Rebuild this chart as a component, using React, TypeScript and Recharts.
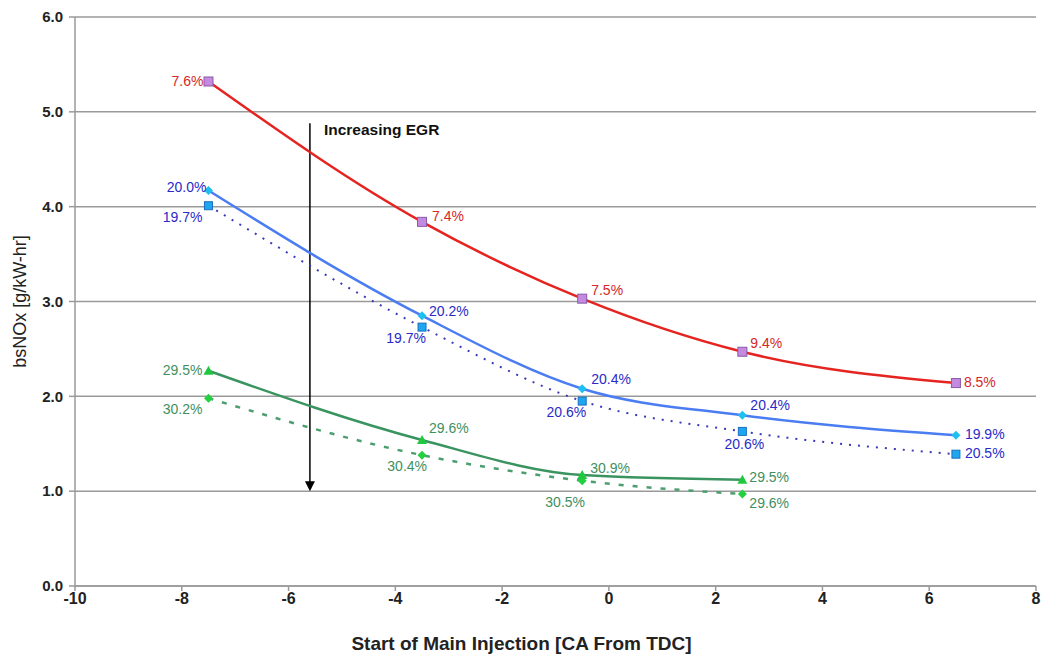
import React from "react";
import {
  LineChart,
  Line,
  XAxis,
  YAxis,
  CartesianGrid,
  LabelList,
  ReferenceLine,
  ReferenceDot,
} from "recharts";

// injection timing (deg CA from TDC)
const timing = [-7.5, -3.5, -0.5, 2.5, 6.5];

// bsNOx [g/kW-hr] per EGR level
const egrLow = [5.32, 3.84, 3.03, 2.47, 2.14];
const egrMidA = [4.17, 2.85, 2.08, 1.8, 1.59];
const egrMidB = [4.01, 2.73, 1.95, 1.63, 1.39];
const egrHighA = [2.27, 1.54, 1.17, 1.12, null];
const egrHighB = [1.98, 1.38, 1.11, 0.97, null];

// measured EGR rate at each point
const egrLowPct = ["7.6%", "7.4%", "7.5%", "9.4%", "8.5%"];
const egrMidAPct = ["20.0%", "20.2%", "20.4%", "20.4%", "19.9%"];
const egrMidBPct = ["19.7%", "19.7%", "20.6%", "20.6%", "20.5%"];
const egrHighAPct = ["29.5%", "29.6%", "30.9%", "29.5%"];
const egrHighBPct = ["30.2%", "30.4%", "30.5%", "29.6%"];

const xTicks = [-10, -8, -6, -4, -2, 0, 2, 4, 6, 8];
const yTicks = [0, 1, 2, 3, 4, 5, 6];

const data = timing.map((t, i) => ({
  t,
  low: egrLow[i],
  midA: egrMidA[i],
  midB: egrMidB[i],
  highA: egrHighA[i],
  highB: egrHighB[i],
  lowPct: egrLowPct[i],
  midAPct: egrMidAPct[i],
  midBPct: egrMidBPct[i],
  highAPct: egrHighAPct[i],
  highBPct: egrHighBPct[i],
}));

// where each percentage sits relative to its marker: [dx, dy, anchor]
type Place = [number, number, "start" | "middle" | "end"];
const lowPlace: Place[] = [
  [-5, 5, "end"],
  [10, -1, "start"],
  [9, -4, "start"],
  [8, -4, "start"],
  [8, 4, "start"],
];
const midAPlace: Place[] = [
  [-2, 1, "end"],
  [7, 0, "start"],
  [9, -5, "start"],
  [8, -5, "start"],
  [9, 4, "start"],
];
const midBPlace: Place[] = [
  [-6, 16, "end"],
  [4, 16, "end"],
  [4, 16, "end"],
  [2, 18, "middle"],
  [9, 4, "start"],
];
const highAPlace: Place[] = [
  [-6, 4, "end"],
  [7, -7, "start"],
  [8, -2, "start"],
  [7, 2, "start"],
];
const highBPlace: Place[] = [
  [-6, 16, "end"],
  [5, 16, "end"],
  [-17, 26, "middle"],
  [7, 14, "start"],
];

const labelFont = "'Liberation Sans', Arial, sans-serif";

const pctLabel = (color: string, places: Place[]) => (props: any) => {
  const { x, y, value, index } = props;
  if (value == null || x == null || y == null) return null;
  const p = places[index] || [6, 4, "start"];
  return (
    <text
      x={x + p[0]}
      y={y + p[1]}
      textAnchor={p[2]}
      fill={color}
      fontSize={14}
      fontFamily={labelFont}
    >
      {value}
    </text>
  );
};

const square = (fill: string, stroke: string, size: number) => (props: any) => {
  const { cx, cy, index } = props;
  if (cx == null || cy == null) return <g key={index} />;
  return (
    <rect
      key={index}
      x={cx - size / 2}
      y={cy - size / 2}
      width={size}
      height={size}
      fill={fill}
      stroke={stroke}
      strokeWidth={1}
    />
  );
};

const diamond = (fill: string, size: number) => (props: any) => {
  const { cx, cy, index } = props;
  if (cx == null || cy == null) return <g key={index} />;
  const h = size / 2;
  return (
    <polygon
      key={index}
      points={`${cx},${cy - h} ${cx + h},${cy} ${cx},${cy + h} ${cx - h},${cy}`}
      fill={fill}
    />
  );
};

const triangle = (fill: string, size: number) => (props: any) => {
  const { cx, cy, index } = props;
  if (cx == null || cy == null) return <g key={index} />;
  const h = size / 2;
  return (
    <polygon
      key={index}
      points={`${cx},${cy - h} ${cx + h},${cy + h * 0.8} ${cx - h},${cy + h * 0.8}`}
      fill={fill}
    />
  );
};

const ArrowHead = (props: any) => {
  const { cx, cy } = props;
  return (
    <polygon points={`${cx - 5},${cy - 10} ${cx + 5},${cy - 10} ${cx},${cy}`} fill="#000" />
  );
};

const EgrText = (props: any) => {
  const { cx, cy } = props;
  return (
    <text
      x={cx + 14}
      y={cy + 12}
      fontSize={15.5}
      fontWeight="bold"
      fontFamily={labelFont}
      fill="#111"
    >
      Increasing EGR
    </text>
  );
};

// x-axis title sits a little left of the plot's centre
const XTitle = (props: any) => {
  const { viewBox } = props;
  const { x, y, width, height } = viewBox;
  return (
    <text
      x={x + width / 2 - 34}
      y={y + height - 6}
      textAnchor="middle"
      fill="#222"
      fontSize={19}
      fontWeight="bold"
      fontFamily={labelFont}
    >
      Start of Main Injection [CA From TDC]
    </text>
  );
};

export default function App() {
  return (
    <div style={{ position: "absolute", left: 0, top: 0, background: "#fff" }}>
      <LineChart
        width={1042}
        height={656}
        data={data}
        margin={{ top: 17, right: 6, left: 0, bottom: 0 }}
      >
        <CartesianGrid vertical={false} stroke="#9a9a9a" strokeWidth={1.5} />
        <XAxis
          dataKey="t"
          type="number"
          domain={[-10, 8]}
          ticks={xTicks}
          height={70}
          stroke="#9a9a9a"
          strokeWidth={1.5}
          tickSize={5}
          tick={{
            fill: "#222",
            fontSize: 16,
            fontWeight: "bold",
            fontFamily: labelFont,
          }}
          label={<XTitle />}
        />
        <YAxis
          type="number"
          domain={[0, 6]}
          ticks={yTicks}
          width={75}
          stroke="#9a9a9a"
          strokeWidth={1.5}
          tickSize={6}
          tickMargin={6}
          tickFormatter={(v) => v.toFixed(1)}
          tick={{ fill: "#222", fontSize: 15, fontWeight: "bold", fontFamily: labelFont }}
          label={{
            value: "bsNOx [g/kW-hr]",
            angle: -90,
            position: "insideLeft",
            offset: 20,
            style: { textAnchor: "middle" },
            fill: "#222",
            fontSize: 18,
            fontFamily: labelFont,
          }}
        />

        <ReferenceLine
          segment={[
            { x: -5.6, y: 4.88 },
            { x: -5.6, y: 1.06 },
          ]}
          stroke="#000"
          strokeWidth={1.5}
        />
        <ReferenceDot x={-5.6} y={1.0} r={0} shape={ArrowHead} />
        <ReferenceDot x={-5.6} y={4.88} r={0} shape={EgrText} />

        <Line
          dataKey="midB"
          type="monotone"
          stroke="#3a3ab8"
          strokeWidth={2}
          strokeDasharray="2 7"
          dot={square("#1ea6f0", "#1a70c0", 8)}
          isAnimationActive={false}
        >
          <LabelList dataKey="midBPct" content={pctLabel("#2a2ac8", midBPlace)} />
        </Line>
        <Line
          dataKey="highB"
          type="monotone"
          stroke="#4c9e6e"
          strokeWidth={2.5}
          strokeDasharray="5 9"
          dot={diamond("#22d040", 9)}
          isAnimationActive={false}
        >
          <LabelList dataKey="highBPct" content={pctLabel("#3f8f60", highBPlace)} />
        </Line>
        <Line
          dataKey="low"
          type="monotone"
          stroke="#e52420"
          strokeWidth={2.5}
          dot={square("#c48ae0", "#8a5aa8", 9)}
          isAnimationActive={false}
        >
          <LabelList dataKey="lowPct" content={pctLabel("#d42828", lowPlace)} />
        </Line>
        <Line
          dataKey="midA"
          type="monotone"
          stroke="#4a7cf2"
          strokeWidth={2.5}
          dot={diamond("#1ec0f0", 9)}
          isAnimationActive={false}
        >
          <LabelList dataKey="midAPct" content={pctLabel("#2a2ac8", midAPlace)} />
        </Line>
        <Line
          dataKey="highA"
          type="monotone"
          stroke="#3a9460"
          strokeWidth={2.5}
          dot={triangle("#20c840", 10)}
          isAnimationActive={false}
        >
          <LabelList dataKey="highAPct" content={pctLabel("#3f8f60", highAPlace)} />
        </Line>
      </LineChart>
    </div>
  );
}
